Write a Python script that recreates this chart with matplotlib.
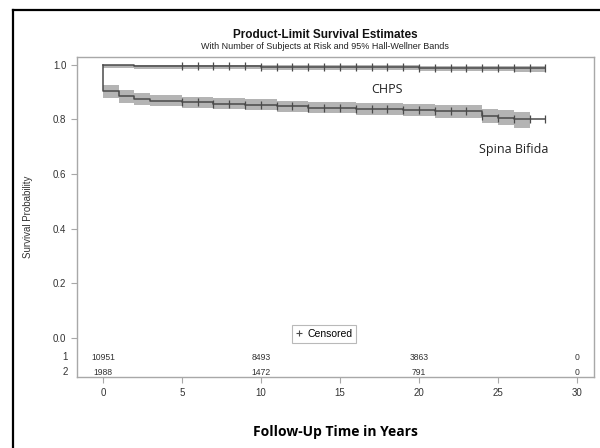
import numpy as np
import matplotlib
matplotlib.use("Agg")
import matplotlib.pyplot as plt
from matplotlib.lines import Line2D

# ---- data ----
chps_t = [0, 0.01, 2, 10, 20, 26, 28]
chps_s = [1.0, 1.0, 0.995, 0.993, 0.990, 0.987, 0.987]
chps_lo = [1.0, 0.988, 0.984, 0.982, 0.979, 0.975, 0.975]
chps_hi = [1.0, 1.0, 0.999, 0.998, 0.996, 0.994, 0.994]

sb_t = [0, 0.001, 1, 2, 3, 5, 7, 9, 11, 13, 16, 19, 21, 24, 25, 26, 28]
sb_s = [1.0, 0.906, 0.885, 0.874, 0.868, 0.863, 0.858, 0.853, 0.848, 0.843,
        0.839, 0.835, 0.830, 0.814, 0.806, 0.800, 0.800]
band_t = [0, 1, 2, 3, 5, 7, 9, 11, 13, 16, 19, 21, 24, 25, 26, 27]
sb_lo = [0.880, 0.862, 0.853, 0.848, 0.843, 0.838, 0.833, 0.828, 0.822, 0.817,
         0.812, 0.805, 0.787, 0.778, 0.770, 0.770]
sb_hi = [0.928, 0.907, 0.896, 0.889, 0.884, 0.879, 0.874, 0.869, 0.864, 0.861,
         0.858, 0.854, 0.840, 0.833, 0.828, 0.828]

censor_t = list(range(5, 29))

risk_times = [0, 10, 20, 30]
risk_1 = [10951, 8493, 3863, 0]
risk_2 = [1988, 1472, 791, 0]

line_col = "#4a4a4a"
band_col = "#b4b4b4"
spine_col = "#a8a8a8"


def step_value(times, vals, x):
    idx = np.searchsorted(times, x, side="right") - 1
    return np.asarray(vals)[idx]


plt.rcParams["font.family"] = ["Liberation Sans", "DejaVu Sans"]

fig = plt.figure(figsize=(6, 4.48), dpi=100)
ax = fig.add_axes([0.128, 0.158, 0.862, 0.715])

# bands
ax.fill_between(chps_t, chps_lo, chps_hi, step="post", color=band_col, lw=0)
ax.fill_between(band_t, sb_lo, sb_hi, step="post", color=band_col, lw=0)

# survival curves
ax.step(chps_t, chps_s, where="post", color=line_col, lw=1.1)
ax.step(sb_t, sb_s, where="post", color=line_col, lw=1.1)

# censored marks
ax.plot(censor_t, step_value(chps_t, chps_s, np.array(censor_t)), ls="none",
        marker="|", ms=6, mew=0.9, color=line_col)
ax.plot(censor_t, step_value(sb_t, sb_s, np.array(censor_t)), ls="none",
        marker="|", ms=6, mew=0.9, color=line_col)

ax.set_xlim(-1.65, 31.08)
ax.set_ylim(-0.143, 1.029)
ax.set_xticks(range(0, 31, 5))
ax.set_yticks([0.0, 0.2, 0.4, 0.6, 0.8, 1.0])
ax.set_yticklabels([f"{v:.1f}" for v in [0.0, 0.2, 0.4, 0.6, 0.8, 1.0]])
ax.tick_params(labelsize=7, colors="#333333", length=4, width=0.8)
for ax_ in ["x", "y"]:
    ax.tick_params(axis=ax_, color=spine_col)
for sp in ax.spines.values():
    sp.set_color(spine_col)
    sp.set_linewidth(1.0)

ax.set_ylabel("Survival Probability", fontsize=7, color="#333333", labelpad=14)
ax.set_xlabel("Follow-Up Time in Years", fontsize=10, fontweight="bold",
              family=["Open Sans", "DejaVu Sans"], labelpad=20)

# labels
ax.text(18.0, 0.91, "CHPS", fontsize=9, family=["Open Sans", "DejaVu Sans"],
        ha="center", va="center", color="#222222")
ax.text(26.0, 0.69, "Spina Bifida", fontsize=9, family=["Open Sans", "DejaVu Sans"],
        ha="center", va="center", color="#222222")

# at-risk table
for x, a, b in zip(risk_times, risk_1, risk_2):
    ax.text(x, -0.07, str(a), fontsize=6.2, ha="center", va="center", color="#333333")
    ax.text(x, -0.124, str(b), fontsize=6.2, ha="center", va="center", color="#333333")
ax.text(-0.018, -0.07, "1", transform=ax.get_yaxis_transform(), fontsize=7,
        ha="right", va="center", color="#333333")
ax.text(-0.018, -0.124, "2", transform=ax.get_yaxis_transform(), fontsize=7,
        ha="right", va="center", color="#333333")

# legend
handle = Line2D([], [], ls="none", marker="+", ms=5, mew=0.8, color=line_col)
leg = ax.legend([handle], ["Censored"], loc="center", bbox_to_anchor=(0.478, 0.135),
                fontsize=7.5, frameon=True, fancybox=False, handlelength=0.6,
                handletextpad=0.5, borderpad=0.4, borderaxespad=0.0,
                edgecolor=spine_col)
leg.get_frame().set_linewidth(0.8)

# titles
fig.text(0.542, 0.922, "Product-Limit Survival Estimates", fontsize=8.5,
         fontweight="bold", ha="center", va="center", color="#111111")
fig.text(0.542, 0.897, "With Number of Subjects at Risk and 95% Hall-Wellner Bands",
         fontsize=6.5, ha="center", va="center", color="#222222")

# outer frame
fig.add_artist(Line2D([0.022, 0.022], [0.0, 0.978], color="black", lw=1.6,
                      transform=fig.transFigure))
fig.add_artist(Line2D([0.022, 1.0], [0.978, 0.978], color="black", lw=1.6,
                      transform=fig.transFigure))

fig.savefig("out.png", dpi=100)
